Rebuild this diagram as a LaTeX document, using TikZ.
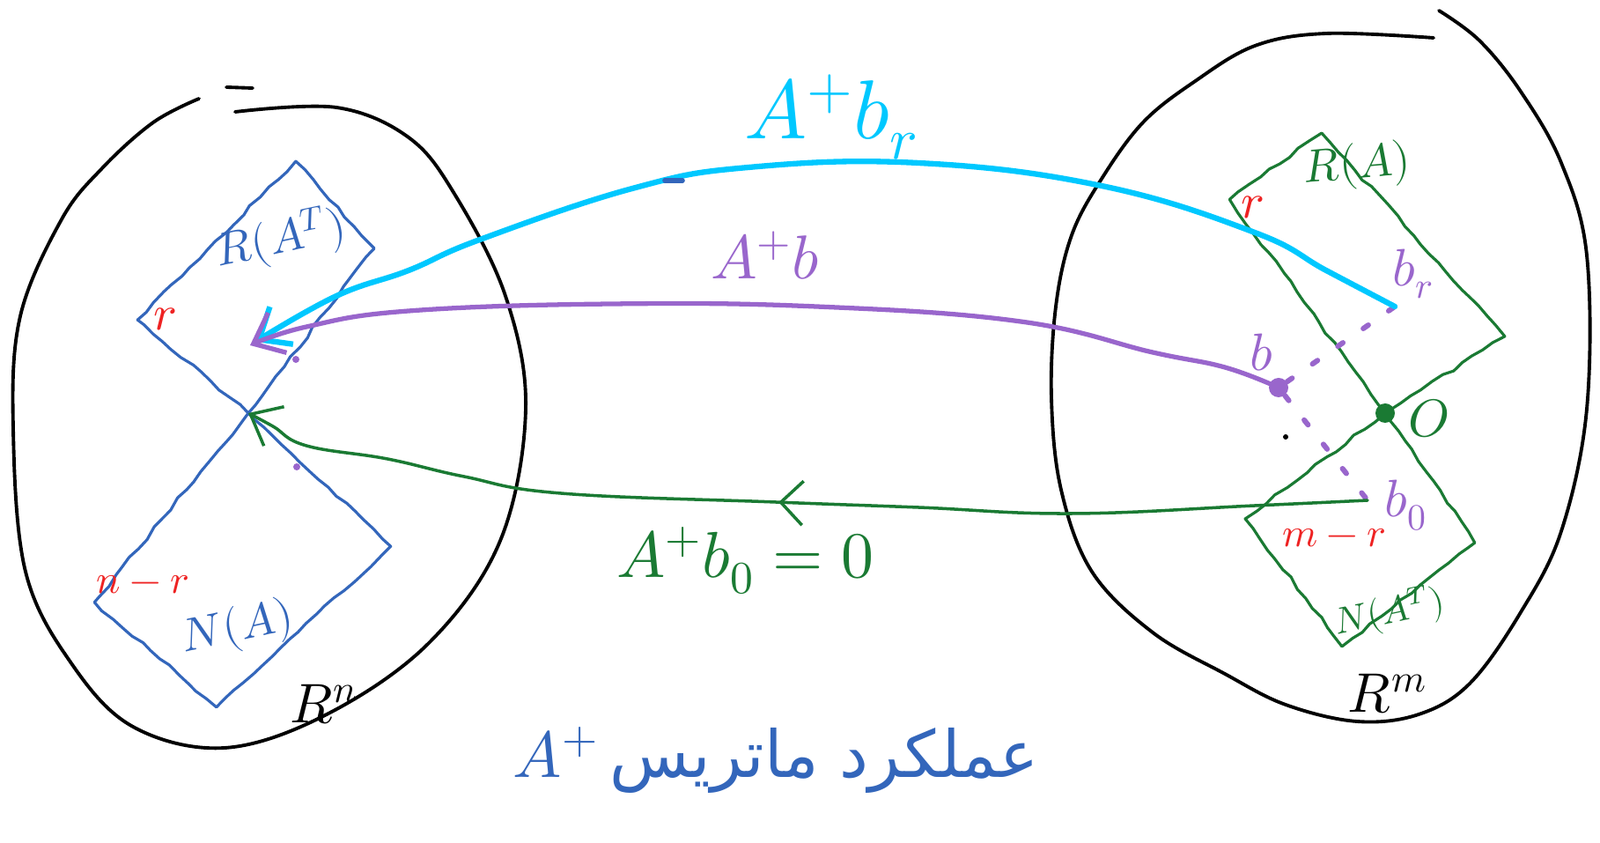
\documentclass[tikz,border=0pt]{standalone}
\usepackage{fontspec}
\usepackage{unicode-math}
\usepackage{xcolor}
\usepackage{tikz}
\usetikzlibrary{arrows.meta,decorations.pathmorphing,decorations.markings}
\newfontfamily\persianfont[Script=Arabic]{DejaVu Sans}
\TeXXeTstate=1
\definecolor{inkblue}{HTML}{3366BB}
\definecolor{inkcyan}{HTML}{00C8FF}
\definecolor{inkpurple}{HTML}{9966CC}
\definecolor{inkgreen}{HTML}{1A7A33}
\definecolor{inkred}{HTML}{EE2222}

\begin{document}
\begin{tikzpicture}[>=Latex, line cap=round, line join=round]
  \tikzstyle{blob}=[black, line width=1.1pt]
  \tikzstyle{wob}=[decorate, decoration={random steps, segment length=4pt, amplitude=0.5pt}, line width=0.9pt]
  \tikzstyle{pt}=[circle, fill, inner sep=0pt, minimum size=2.2mm]
  \tikzstyle{barb}=[-{Straight Barb[length=3mm,width=5mm]}]
  \tikzstyle{dots}=[inkpurple, line width=1.7pt, dash pattern=on 2pt off 8pt]
  \tikzstyle{lbl}=[inner sep=1pt]
  \useasboundingbox (0,0) rectangle (18.17,9.56);

  \draw[blob] plot[smooth, tension=0.6] coordinates {(2.26,8.44) (1.74,8.17) (1.16,7.65) (0.70,7.07)
    (0.23,5.97) (0.15,4.69) (0.29,3.07) (0.81,2.03) (1.51,1.31) (2.55,1.07) (3.71,1.45) (4.87,2.26)
    (5.68,3.42) (5.97,4.92) (5.74,6.20) (5.16,7.36) (4.64,8.00) (3.82,8.34) (2.67,8.29)};
  \draw[blob] (2.57,8.57) -- (2.87,8.56);
  \draw[blob] plot[smooth, tension=0.6] coordinates {(16.28,9.13) (15.06,9.18) (14.25,9.04) (13.56,8.63)
    (12.98,8.17) (12.51,7.53) (12.17,6.89) (11.99,6.08) (11.94,5.04) (12.05,4.00) (12.40,3.07)
    (13.09,2.38) (13.91,1.91) (14.60,1.56) (15.41,1.37) (16.11,1.45) (16.69,1.80) (17.27,2.61)
    (17.73,3.53) (18.02,4.92) (18.02,6.66) (17.73,7.71) (17.27,8.52) (16.80,9.10) (16.34,9.44)};

  \coordinate (lcross) at (2.82,4.87);
  \coordinate (tipc) at (2.90,5.68);
  \coordinate (tipp) at (2.84,5.64);
  \coordinate (brpt) at (15.84,6.08);
  \coordinate (bzero) at (15.53,3.88);
  \node[pt, inkgreen] (rorig) at (15.73,4.87) {};
  \node[pt, inkpurple] (bpt) at (14.52,5.16) {};

  \draw[wob, inkblue] (lcross) -- (1.56,5.93) -- (3.36,7.73) -- (4.25,6.74) -- cycle;
  \draw[wob, inkblue] (lcross) -- (1.07,2.72) -- (2.46,1.53) -- (4.44,3.36) -- cycle;
  \draw[wob, inkgreen] (rorig.center) -- (13.96,7.30) -- (15.01,8.05) -- (17.09,5.74) -- cycle;
  \draw[wob, inkgreen] (rorig.center) -- (14.14,3.67) -- (15.24,2.22) -- (16.75,3.40) -- cycle;

  \draw[dots] (bpt) -- (brpt);
  \draw[dots] (bpt) -- (bzero);

  \draw[inkcyan, line width=1.8pt, barb] plot[smooth, tension=0.7] coordinates {(brpt) (15.06,6.49)
    (14.25,6.92) (12.51,7.45) (10.43,7.71) (8.5,7.66) (7.18,7.42) (5.45,6.84) (4.64,6.49) (3.82,6.20) (tipc)};
  \draw[inkpurple, line width=1.5pt, barb] plot[smooth, tension=0.7] coordinates {(bpt) (13.91,5.39)
    (13.09,5.56) (11.59,5.91) (9.27,6.08) (6.95,6.11) (4.64,6.03) (3.48,5.85) (tipp)};
  \draw[inkgreen, line width=1pt, barb, postaction={decorate},
    decoration={markings, mark=at position 0.52 with {\arrow{Straight Barb[length=2.5mm,width=5mm]}}}]
    plot[smooth, tension=0.7] coordinates {(bzero) (14.25,3.82) (12.17,3.73) (10.43,3.80) (8.81,3.86)
    (6.37,3.96) (5.27,4.15) (4.40,4.35) (3.48,4.50) (3.10,4.72) (lcross)};

  \fill (14.60,4.60) circle (0.03);
  \fill[inkpurple] (3.36,5.48) circle (0.04);
  \fill[inkpurple] (3.37,4.26) circle (0.04);
  \draw[inkblue, line width=1.6pt] (7.55,7.51) -- (7.75,7.51);

  \node[lbl, inkcyan, font=\fontsize{27}{30}\selectfont] (lbr) at (9.44,8.23) {$A^{+}b_r$};
  \node[lbl, inkpurple, font=\fontsize{20}{24}\selectfont] (lb) at (8.69,6.66) {$A^{+}b$};
  \node[lbl, inkgreen, font=\fontsize{21}{24}\selectfont] (lbz) at (8.46,3.19) {$A^{+}b_0=0$};

  \node[lbl, inkblue, rotate=12, font=\fontsize{15}{18}\selectfont] (rat) at (3.19,6.84) {$R(A^T)$};
  \node[lbl, inkred, font=\fontsize{16}{18}\selectfont] (lr) at (1.88,5.94) {$r$};
  \node[lbl, inkred, font=\fontsize{13}{16}\selectfont] (lnr) at (1.62,2.92) {$n-r$};
  \node[lbl, inkblue, rotate=12, font=\fontsize{15}{18}\selectfont] (na) at (2.70,2.42) {$N(A)$};
  \node[lbl, font=\fontsize{18}{20}\selectfont] (rn) at (3.68,1.56) {$R^n$};

  \node[lbl, inkgreen, rotate=5, font=\fontsize{15}{18}\selectfont] (ra) at (15.41,7.67) {$R(A)$};
  \node[lbl, inkred, font=\fontsize{16}{18}\selectfont] (rr) at (14.23,7.21) {$r$};
  \node[lbl, inkpurple, font=\fontsize{17}{20}\selectfont] (lbrr) at (16.05,6.45) {$b_r$};
  \node[lbl, inkpurple, font=\fontsize{17}{20}\selectfont] (lbb) at (14.33,5.56) {$b$};
  \node[lbl, inkgreen, font=\fontsize{17}{20}\selectfont] (lo) at (16.22,4.81) {$O$};
  \node[lbl, inkpurple, font=\fontsize{17}{20}\selectfont] (lbzz) at (15.97,3.82) {$b_0$};
  \node[lbl, inkred, font=\fontsize{13}{16}\selectfont] (rmr) at (15.15,3.45) {$m-r$};
  \node[lbl, inkgreen, rotate=12, font=\fontsize{12}{14}\selectfont] (nat) at (15.78,2.60) {$N(A^T)$};
  \node[lbl, font=\fontsize{18}{20}\selectfont] (rm) at (15.76,1.68) {$R^m$};

  \node[lbl, inkblue, font=\fontsize{21}{26}\selectfont] (title) at (8.81,0.93)
    {$A^{+}$\,{\persianfont\beginR عملکرد ماتریس\endR}};
\end{tikzpicture}
\end{document}
